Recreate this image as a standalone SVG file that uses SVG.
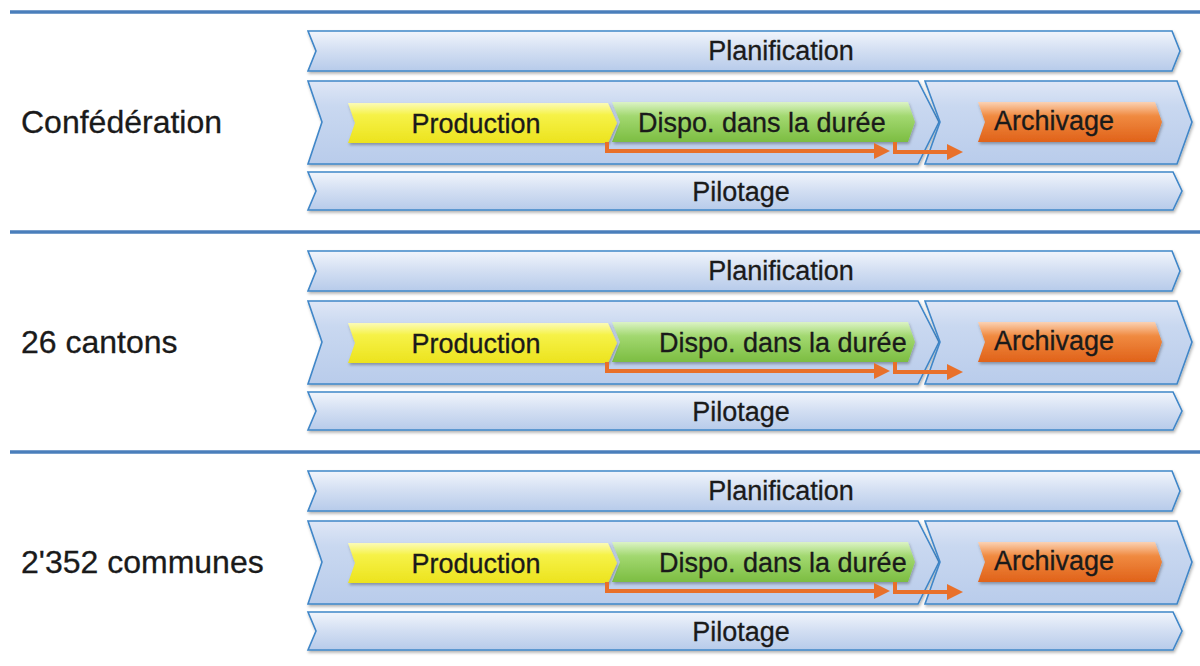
<svg xmlns="http://www.w3.org/2000/svg" width="1200" height="666" viewBox="0 0 1200 666">
<style>
.band{fill:url(#gBand);stroke:#3f86c8;stroke-width:1.6;filter:url(#sh)}
.mid{fill:url(#gMid);stroke:#3f86c8;stroke-width:1.6;filter:url(#sh)}
.yel{fill:url(#gYel);filter:url(#sh)}
.grn{fill:url(#gGrn);filter:url(#sh)}
.org{fill:url(#gOrg);filter:url(#sh)}
.lbl{font-family:"Liberation Sans",Arial,sans-serif;font-size:27px;fill:#1a1a1a;stroke:#1a1a1a;stroke-width:0.3}
.big{font-family:"Liberation Sans",Arial,sans-serif;font-size:32px;fill:#1a1a1a;stroke:#1a1a1a;stroke-width:0.3}
.sep{stroke:#4a7ebb;stroke-width:3.5}
.arr{fill:none;stroke:#e8702a;stroke-width:4;marker-end:url(#ah)}
</style>
<defs>
<linearGradient id="gBand" x1="0" y1="0" x2="0" y2="1">
<stop offset="0" stop-color="#f1f5fc"/><stop offset="0.5" stop-color="#d2def2"/><stop offset="1" stop-color="#b7cbea"/>
</linearGradient>
<linearGradient id="gMid" x1="0" y1="0" x2="0" y2="1">
<stop offset="0" stop-color="#dfe7f6"/><stop offset="0.3" stop-color="#c9d8f0"/><stop offset="1" stop-color="#b9cceb"/>
</linearGradient>
<linearGradient id="gYel" x1="0" y1="0" x2="0" y2="1">
<stop offset="0" stop-color="#fbfbb8"/><stop offset="0.3" stop-color="#f6f247"/><stop offset="1" stop-color="#ece31e"/>
</linearGradient>
<linearGradient id="gGrn" x1="0" y1="0" x2="0" y2="1">
<stop offset="0" stop-color="#dcf3c6"/><stop offset="0.35" stop-color="#a2d870"/><stop offset="1" stop-color="#7cbd42"/>
</linearGradient>
<linearGradient id="gOrg" x1="0" y1="0" x2="0" y2="1">
<stop offset="0" stop-color="#fbd2b4"/><stop offset="0.35" stop-color="#f08a40"/><stop offset="1" stop-color="#e0621a"/>
</linearGradient>
<filter id="sh" x="-5%" y="-20%" width="110%" height="150%">
<feDropShadow dx="1" dy="2" stdDeviation="1.5" flood-color="#000" flood-opacity="0.3"/>
</filter>
<marker id="ah" viewBox="0 0 16 16" refX="12" refY="8" markerWidth="16" markerHeight="16" markerUnits="userSpaceOnUse" orient="auto">
<path d="M0,0 L16,8 L0,16 Z" fill="#e8702a"/>
</marker>
<g id="sect">
<path class="band" d="M308,31 L1172,31 L1180,51 L1172,71 L308,71 L316,51 Z"/>
<path class="mid" d="M308,81 L918,81 L939,122 L918,164 L308,164 L322,122 Z"/>
<path class="mid" d="M925,81 L1177,81 L1192,122 L1177,164 L925,164 L940,122 Z"/>
<path class="band" d="M308,172 L1173,172 L1182,191 L1173,210 L308,210 L316,191 Z"/>
<path class="grn" d="M612,102 L908,102 L915,122 L908,142 L612,142 L620,122 Z"/>
<path class="yel" d="M348,103 L608,103 L617,123 L608,143 L348,143 L355,123 Z"/>
<path class="org" d="M978,102 L1155,102 L1162,122 L1155,142 L978,142 L985,122 Z"/>
</g>
</defs>
<line class="sep" x1="10" y1="12" x2="1200" y2="12"/>
<line class="sep" x1="10" y1="232" x2="1200" y2="232"/>
<line class="sep" x1="10" y1="452" x2="1200" y2="452"/>

<g id="confederation">
<use href="#sect"/>
<text class="big" x="21" y="133">Confédération</text>
<text class="lbl" x="781" y="60" text-anchor="middle">Planification</text>
<text class="lbl" x="741" y="201" text-anchor="middle">Pilotage</text>
<text class="lbl" x="476" y="133" text-anchor="middle">Production</text>
<text class="lbl" x="638" y="132">Dispo. dans la durée</text>
<text class="lbl" x="1054" y="130" text-anchor="middle">Archivage</text>
</g>
<g id="cantons" transform="translate(0,220)">
<use href="#sect"/>
<text class="big" x="21" y="133">26 cantons</text>
<text class="lbl" x="781" y="60" text-anchor="middle">Planification</text>
<text class="lbl" x="741" y="201" text-anchor="middle">Pilotage</text>
<text class="lbl" x="476" y="133" text-anchor="middle">Production</text>
<text class="lbl" x="659" y="132">Dispo. dans la durée</text>
<text class="lbl" x="1054" y="130" text-anchor="middle">Archivage</text>
</g>
<g id="communes" transform="translate(0,440)">
<use href="#sect"/>
<text class="big" x="21" y="133">2'352 communes</text>
<text class="lbl" x="781" y="60" text-anchor="middle">Planification</text>
<text class="lbl" x="741" y="201" text-anchor="middle">Pilotage</text>
<text class="lbl" x="476" y="133" text-anchor="middle">Production</text>
<text class="lbl" x="659" y="132">Dispo. dans la durée</text>
<text class="lbl" x="1054" y="130" text-anchor="middle">Archivage</text>
</g>

<g id="connectors">
<path class="arr" d="M607,142 V151 H886"/>
<path class="arr" d="M895,142 V152 H959"/>
<path class="arr" d="M607,362 V371 H886"/>
<path class="arr" d="M895,362 V372 H959"/>
<path class="arr" d="M607,582 V591 H886"/>
<path class="arr" d="M895,582 V592 H959"/>
</g>
</svg>
